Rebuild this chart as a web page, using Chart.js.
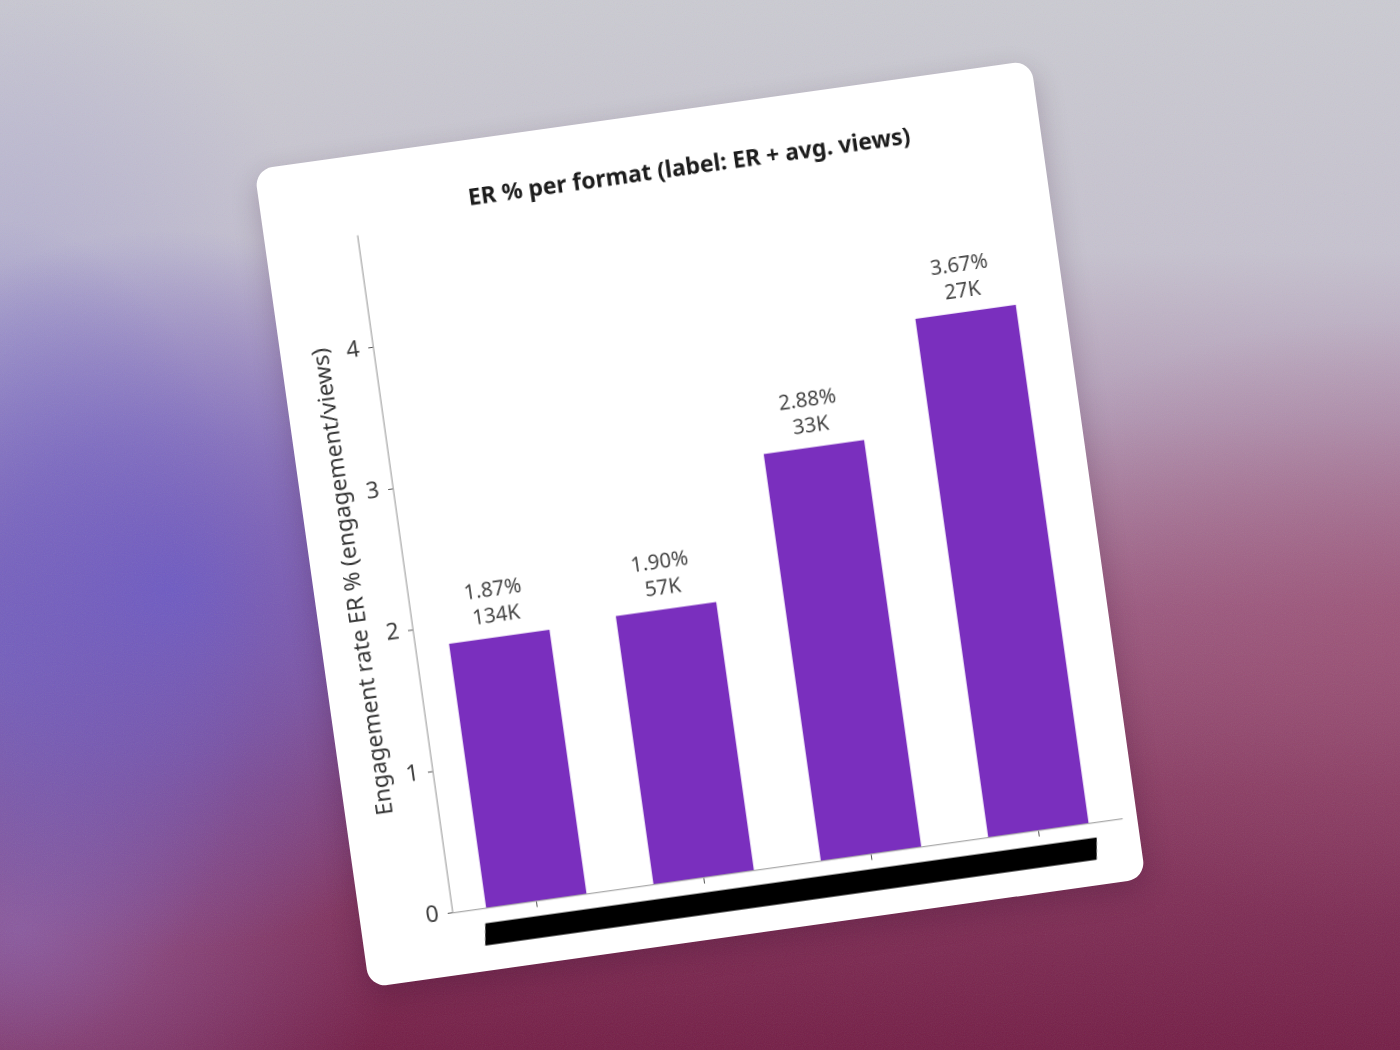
<!DOCTYPE html>
<html>
<head>
<meta charset="utf-8">
<script src="https://cdn.jsdelivr.net/npm/chart.js@4.4.1/dist/chart.umd.min.js"></script>
<style>
  html, body { margin: 0; padding: 0; width: 1400px; height: 1050px; overflow: hidden; }
  body {
    position: relative;
    background:
      radial-gradient(ellipse 380px 360px at 170px 590px, rgba(108,90,196,0.95) 0%, rgba(108,90,196,0.6) 45%, rgba(108,90,196,0) 100%),
      radial-gradient(ellipse 260px 420px at 0px 640px, rgba(120,104,190,0.8) 0%, rgba(120,104,190,0) 100%),
      radial-gradient(ellipse 380px 300px at 20px 930px, rgba(150,100,170,0.75) 0%, rgba(150,100,170,0) 100%),
      radial-gradient(ellipse 320px 380px at 0px 330px, rgba(172,168,208,0.75) 0%, rgba(172,168,208,0) 100%),
      radial-gradient(ellipse 500px 300px at 1400px 620px, rgba(160,80,112,0.5) 0%, rgba(160,80,112,0) 100%),
      linear-gradient(180deg, #cbcbd2 0%, #c6c2cf 24%, #b29ab6 40%, #9a5c84 58%, #873a62 75%, #741e46 100%);
  }
  #grain {
    position: absolute; inset: 0; opacity: 0.10; pointer-events: none;
    background-image: url("data:image/svg+xml;utf8,<svg xmlns='http://www.w3.org/2000/svg' width='300' height='300'><filter id='n'><feTurbulence type='fractalNoise' baseFrequency='0.9' numOctaves='2' stitchTiles='stitch'/></filter><rect width='100%' height='100%' filter='url(%23n)'/></svg>");
  }
  #card {
    position: absolute;
    left: 308px; top: 111px;
    width: 784px; height: 826px;
    background: #ffffff;
    border-radius: 18px;
    transform: rotate(-8deg);
    box-shadow: 0 10px 28px rgba(40,10,40,0.22);
    overflow: hidden;
  }
  #chart { display: block; }
</style>
</head>
<body>
<div id="grain"></div>
<div id="card"><canvas id="chart" width="784" height="826"></canvas></div>
<script>
// ---- data ----
const categories = ['Format 1', 'Format 2', 'Format 3', 'Format 4'];
const erValues = [1.87, 1.90, 2.88, 3.67];
const avgViewsLabels = ['134K', '57K', '33K', '27K'];
const yTickMax = 4.79;

const FONT = "'Noto Sans', 'DejaVu Sans', sans-serif";
const BAR_COLOR = '#7a2fbe';

const valueLabelPlugin = {
  id: 'valueLabels',
  afterDatasetsDraw(chart) {
    const ctx = chart.ctx;
    const meta = chart.getDatasetMeta(0);
    ctx.save();
    ctx.fillStyle = '#444444';
    ctx.font = "20.5px " + FONT;
    ctx.textAlign = 'center';
    ctx.textBaseline = 'alphabetic';
    meta.data.forEach((bar, i) => {
      const v = erValues[i];
      ctx.fillText(v.toFixed(2) + '%', bar.x, bar.y - 41);
      ctx.fillText(avgViewsLabels[i], bar.x, bar.y - 15);
    });
    ctx.restore();
  }
};

const redactPlugin = {
  id: 'redact',
  afterDraw(chart) {
    const ctx = chart.ctx;
    const meta = chart.getDatasetMeta(0);
    const first = meta.data[0], last = meta.data[meta.data.length - 1];
    const x0 = first.x - first.width / 2 - 3;
    const x1 = last.x + last.width / 2 + 6;
    const yT = chart.chartArea.bottom + 15;
    const yB = chart.chartArea.bottom + 37;
    const s = Math.tan(8 * Math.PI / 180) * (yB - yT);
    ctx.save();
    ctx.fillStyle = '#000000';
    ctx.beginPath();
    ctx.moveTo(x0, yT);
    ctx.lineTo(x1, yT);
    ctx.lineTo(x1 - s, yB);
    ctx.lineTo(x0 - s, yB);
    ctx.closePath();
    ctx.fill();
    ctx.restore();
  }
};

new Chart(document.getElementById('chart'), {
  type: 'bar',
  data: {
    labels: categories,
    datasets: [{
      data: erValues,
      backgroundColor: BAR_COLOR,
      borderWidth: 0,
      barPercentage: 0.6,
      categoryPercentage: 1.0
    }]
  },
  options: {
    responsive: false,
    animation: false,
    devicePixelRatio: 2,
    layout: { padding: { left: 0, right: 15, top: 0, bottom: 0 } },
    plugins: {
      legend: { display: false },
      tooltip: { enabled: false },
      title: {
        display: true,
        fullSize: false,
        text: 'ER % per format (label: ER + avg. views)',
        color: '#1c1c1c',
        font: { family: FONT, size: 23, weight: 'bold' },
        padding: { top: 45, bottom: 7.4 }
      }
    },
    scales: {
      x: {
        offset: true,
        afterFit(scale) { scale.height = 62.4; },
        grid: { drawOnChartArea: false, drawTicks: true, tickLength: 6, color: '#555555', offset: false },
        border: { display: true, color: '#aaaaaa', width: 1.3 },
        ticks: { display: false }
      },
      y: {
        min: 0,
        max: yTickMax,
        afterFit(scale) { scale.width = 93; },
        ticks: { stepSize: 1, includeBounds: false, color: '#3c3c3c', font: { family: FONT, size: 23 }, padding: 9 },
        grid: { drawOnChartArea: false, drawTicks: true, tickLength: 5, color: '#555555' },
        border: { display: true, color: '#aaaaaa', width: 1.3 },
        title: {
          display: true,
          text: 'Engagement rate ER % (engagement/views)',
          color: '#333333',
          font: { family: FONT, size: 23 },
          padding: { top: 27.2, bottom: 0 }
        }
      }
    }
  },
  plugins: [valueLabelPlugin, redactPlugin]
});
</script>
</body>
</html>
